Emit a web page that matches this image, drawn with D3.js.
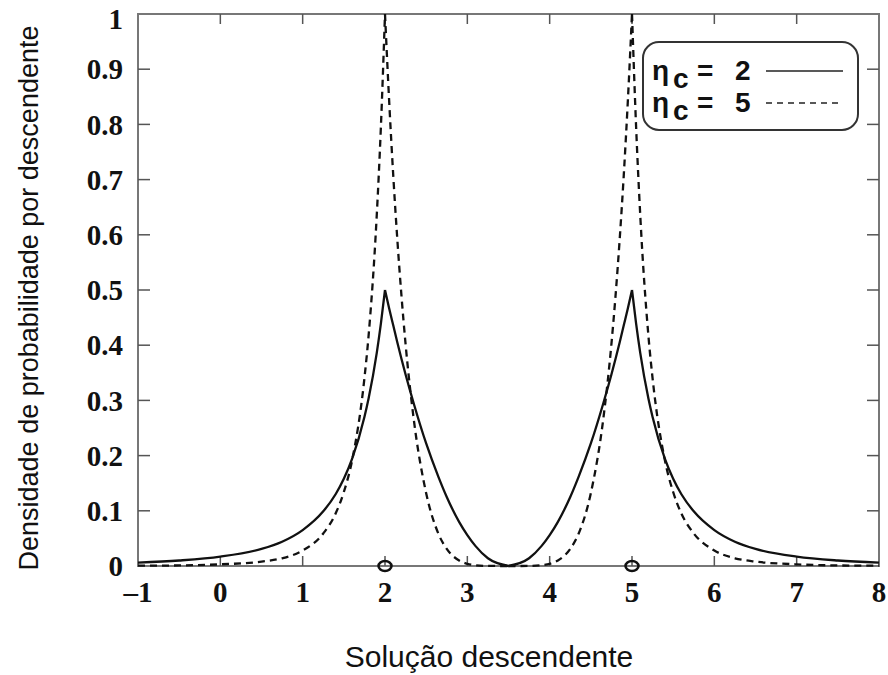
<!DOCTYPE html>
<html>
<head>
<meta charset="utf-8">
<script src="https://cdn.jsdelivr.net/npm/d3@7"></script>
<style>
  body { margin: 0; background: #fff; }
  .tick-lab { font-family: "Liberation Serif", "Times New Roman", serif; font-weight: bold; font-size: 29px; fill: #111; }
  .title { font-family: "Liberation Sans", Arial, sans-serif; fill: #111; }
  .leg { font-family: "Liberation Sans", Arial, sans-serif; font-weight: bold; font-size: 28px; fill: #111; }
</style>
</head>
<body>
<div id="chart"></div>
<script>
// offspring positions (x)
var xs = [-1, -0.5, 0, 0.5, 0.75, 1, 1.25, 1.4, 1.5, 1.6, 1.75, 1.8, 1.9, 1.95, 2,
          2.05, 2.1, 2.15, 2.25, 2.35, 2.5, 2.65, 2.75, 2.9, 3, 3.1, 3.25, 3.5,
          3.75, 3.9, 4, 4.1, 4.25, 4.35, 4.5, 4.65, 4.75, 4.85, 4.9, 4.95, 5,
          5.05, 5.1, 5.2, 5.25, 5.4, 5.5, 5.6, 5.75, 6, 6.25, 6.5, 7, 7.5, 8];
// density, eta_c = 2 (solid)
var eta2 = [0.006, 0.010, 0.017, 0.031, 0.044, 0.065, 0.099, 0.130, 0.158, 0.194, 0.270, 0.303, 0.386, 0.439, 0.5,
            0.467, 0.436, 0.405, 0.347, 0.294, 0.222, 0.161, 0.125, 0.080, 0.056, 0.036, 0.014, 0,
            0.014, 0.036, 0.056, 0.080, 0.125, 0.161, 0.222, 0.294, 0.347, 0.405, 0.436, 0.467, 0.5,
            0.439, 0.386, 0.303, 0.270, 0.194, 0.158, 0.130, 0.099, 0.065, 0.044, 0.031, 0.017, 0.010, 0.006];
// density, eta_c = 5 (dashed)
var eta5 = [0.0005, 0.001, 0.003, 0.008, 0.014, 0.028, 0.059, 0.095, 0.134, 0.191, 0.340, 0.416, 0.636, 0.795, 1.0,
            0.844, 0.708, 0.591, 0.402, 0.265, 0.132, 0.058, 0.031, 0.010, 0.004, 0.0014, 0.0001, 0,
            0.0001, 0.0014, 0.004, 0.010, 0.031, 0.058, 0.132, 0.265, 0.402, 0.591, 0.708, 0.844, 1.0,
            0.795, 0.636, 0.416, 0.340, 0.191, 0.134, 0.095, 0.059, 0.028, 0.014, 0.008, 0.003, 0.001, 0.0005];
var parents = [2, 5];
var breaks = [2, 3.5, 5];   // cusps / turning points where the curves are split
var xTicks = [-1, 0, 1, 2, 3, 4, 5, 6, 7, 8];
var yTicks = [0, 0.1, 0.2, 0.3, 0.4, 0.5, 0.6, 0.7, 0.8, 0.9, 1];
var yTickLabels = ["0", "0.1", "0.2", "0.3", "0.4", "0.5", "0.6", "0.7", "0.8", "0.9", "1"];
var legendNames = ["2", "5"];

var svgWidth = 888, svgHeight = 675;
var margin = { top: 14, right: 9, bottom: 109, left: 138 };
var width = svgWidth - margin.left - margin.right;
var height = svgHeight - margin.top - margin.bottom;

var svg = d3.select("#chart").append("svg")
    .attr("width", svgWidth)
    .attr("height", svgHeight);

var g = svg.append("g")
    .attr("transform", `translate(${margin.left}, ${margin.top})`);

var x = d3.scaleLinear().domain([-1, 8]).range([0, width]);
var y = d3.scaleLinear().domain([0, 1]).range([height, 0]);

// frame
g.append("rect")
    .attr("x", 0).attr("y", 0)
    .attr("width", width).attr("height", height)
    .attr("fill", "none")
    .attr("stroke", "#777")
    .attr("stroke-width", 2);

// inward ticks on all four sides
var tickG = g.append("g").attr("stroke", "#555").attr("stroke-width", 1.5);
yTicks.slice(1, -1).forEach(function(t) {
    tickG.append("line").attr("x1", 0).attr("x2", 12).attr("y1", y(t)).attr("y2", y(t));
    tickG.append("line").attr("x1", width).attr("x2", width - 12).attr("y1", y(t)).attr("y2", y(t));
});
xTicks.slice(1, -1).forEach(function(t) {
    tickG.append("line").attr("x1", x(t)).attr("x2", x(t)).attr("y1", 0).attr("y2", 10);
    tickG.append("line").attr("x1", x(t)).attr("x2", x(t)).attr("y1", height).attr("y2", height - 10);
});

// tick labels (top one nudged down a little so it stays on the page)
g.selectAll(".ylab").data(yTicks).enter().append("text")
    .attr("class", "tick-lab")
    .attr("x", -15)
    .attr("y", d => y(d))
    .attr("dy", d => d === 1 ? "0.5em" : "0.35em")
    .attr("text-anchor", "end")
    .text((d, i) => yTickLabels[i]);

g.selectAll(".xlab").data(xTicks).enter().append("text")
    .attr("class", "tick-lab")
    .attr("x", d => x(d))
    .attr("y", height + 36)
    .attr("text-anchor", "middle")
    .text(d => d < 0 ? "\u2013" + Math.abs(d) : d);

// split a series into monotone pieces so the peaks stay sharp
function pieces(vals) {
    var pts = xs.map((v, i) => [v, vals[i]]);
    var out = [], cur = [];
    pts.forEach(function(p) {
        cur.push(p);
        if (breaks.indexOf(p[0]) >= 0) { out.push(cur); cur = [p]; }
    });
    out.push(cur);
    return out;
}

var line = d3.line()
    .x(d => x(d[0]))
    .y(d => y(d[1]))
    .curve(d3.curveMonotoneX);

function drawSeries(vals, dash) {
    g.append("path")
        .attr("d", pieces(vals).map(p => line(p)).join(""))
        .attr("fill", "none")
        .attr("stroke", "#111")
        .attr("stroke-width", 2.3)
        .attr("stroke-dasharray", dash);
}
drawSeries(eta2, null);
drawSeries(eta5, "7,5");

// parent markers
g.selectAll(".parent").data(parents).enter().append("ellipse")
    .attr("cx", d => x(d))
    .attr("cy", y(0))
    .attr("rx", 6.5)
    .attr("ry", 5)
    .attr("fill", "none")
    .attr("stroke", "#111")
    .attr("stroke-width", 2.5);

// legend
var leg = svg.append("g").attr("transform", "translate(643, 42)");
leg.append("rect")
    .attr("width", 215).attr("height", 88)
    .attr("rx", 16).attr("ry", 16)
    .attr("fill", "#fff")
    .attr("stroke", "#333")
    .attr("stroke-width", 2);
legendNames.forEach(function(name, i) {
    var by = 38 + i * 32;
    leg.append("text").attr("class", "leg")
        .attr("x", 9).attr("y", by)
        .attr("font-family", "Liberation Serif").attr("font-weight", "normal").attr("font-size", 36)
        .text("\u03b7");
    leg.append("text").attr("class", "leg")
        .attr("x", 30).attr("y", by + 8).attr("font-size", 22)
        .text("c");
    leg.append("text").attr("class", "leg")
        .attr("x", 54).attr("y", by)
        .text("=");
    leg.append("text").attr("class", "leg")
        .attr("x", 92).attr("y", by)
        .text(name);
    leg.append("line")
        .attr("x1", 123).attr("x2", 200)
        .attr("y1", 29 + i * 32).attr("y2", 29 + i * 32)
        .attr("stroke", "#222")
        .attr("stroke-width", 1.5)
        .attr("stroke-dasharray", i === 0 ? null : "6,5");
});

// axis titles
svg.append("text")
    .attr("class", "title")
    .attr("font-size", 30)
    .attr("x", 489).attr("y", 667)
    .attr("text-anchor", "middle")
    .text("Solução descendente");

svg.append("text")
    .attr("class", "title")
    .attr("font-size", 27)
    .attr("transform", "translate(38, 298) rotate(-90)")
    .attr("text-anchor", "middle")
    .text("Densidade de probabilidade por descendente");
</script>
</body>
</html>
